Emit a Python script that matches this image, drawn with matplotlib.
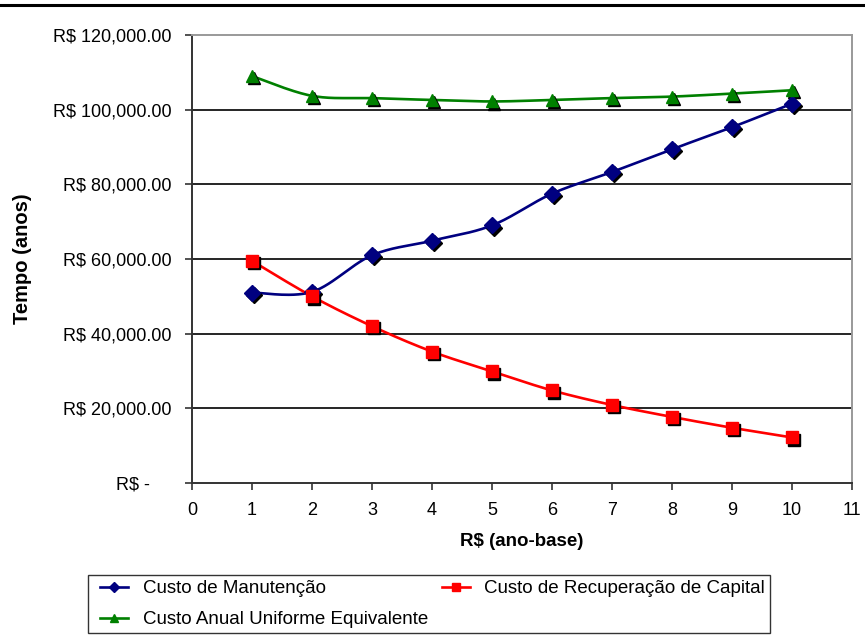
import numpy as np
import matplotlib.pyplot as plt
import matplotlib.transforms as mtransforms
from matplotlib.lines import Line2D
from matplotlib.legend_handler import HandlerLine2D

plt.rcParams['font.family'] = ['Liberation Sans', 'DejaVu Sans']

# --- data ---
anos = [1, 2, 3, 4, 5, 6, 7, 8, 9, 10]
custo_manutencao = [51000, 51200, 61000, 64900, 69000, 77500, 83300, 89400, 95300, 101600]
custo_recuperacao = [59500, 50000, 42000, 35200, 29900, 24800, 20900, 17700, 14800, 12200]
custo_anual = [109000, 103700, 103100, 102600, 102200, 102600, 103100, 103500, 104300, 105200]

yticks = [0, 20000, 40000, 60000, 80000, 100000, 120000]
ytick_labels = ['R$ -', 'R$ 20,000.00', 'R$ 40,000.00', 'R$ 60,000.00',
                'R$ 80,000.00', 'R$ 100,000.00', 'R$ 120,000.00']
xticks = list(range(0, 12))


def smooth(x, y, n=30):
    # Catmull-Rom style bezier through the points (like Excel's smoothed line)
    x = np.asarray(x, float)
    y = np.asarray(y, float)
    px = np.concatenate([[x[0]], x, [x[-1]]])
    py = np.concatenate([[y[0]], y, [y[-1]]])
    xs, ys = [], []
    t = np.linspace(0, 1, n)[:, None]
    for i in range(1, len(px) - 2):
        p0 = np.array([px[i], py[i]])
        p3 = np.array([px[i + 1], py[i + 1]])
        c1 = p0 + (p3 - np.array([px[i - 1], py[i - 1]])) / 6
        c2 = p3 - (np.array([px[i + 2], py[i + 2]]) - p0) / 6
        pts = ((1 - t) ** 3 * p0 + 3 * (1 - t) ** 2 * t * c1
               + 3 * (1 - t) * t ** 2 * c2 + t ** 3 * p3)
        xs.extend(pts[:, 0])
        ys.extend(pts[:, 1])
    return xs, ys


fig = plt.figure(figsize=(8.65, 6.36), dpi=100)
ax = fig.add_axes([192 / 865, 1 - 483 / 636, 660 / 865, 448 / 636])

# rule across the top of the page
fig.add_artist(Line2D([0, 1], [1 - 5 / 636, 1 - 5 / 636], color='black', lw=2.2,
                      transform=fig.transFigure))

series = [
    (custo_manutencao, '#000080', 'D', 8, 'Custo de Manutenção'),
    (custo_anual, '#008000', '^', 8.5, 'Custo Anual Uniforme Equivalente'),
    (custo_recuperacao, '#FF0000', 's', 8, 'Custo de Recuperação de Capital'),
]

shadow = mtransforms.offset_copy(ax.transData, fig=fig, x=1.6, y=-1.6, units='points')
handles = []
for vals, col, mk, ms, lab in series:
    sx, sy = smooth(anos, vals)
    ax.plot(sx, sy, color=col, lw=1.9, zorder=3, solid_capstyle='round')
    ax.plot(anos, vals, ls='none', marker=mk, ms=ms, color='black', mec='black',
            transform=shadow, zorder=4)
    ax.plot(anos, vals, ls='none', marker=mk, ms=ms, color=col, mec=col, zorder=5)
    handles.append(Line2D([], [], color=col, lw=1.9, marker=mk, ms=ms * 0.7, mec=col,
                          label=lab))

ax.set_xlim(0, 11)
ax.set_ylim(0, 120000)
ax.set_xticks(xticks)
ax.set_yticks(yticks)
ax.set_yticklabels(ytick_labels)
ax.tick_params(axis='both', direction='out', length=5, width=1.2, color='#333333',
               labelsize=13)
ax.tick_params(axis='y', pad=9.5)
ax.tick_params(axis='x', pad=9)

# the "R$ -" label sits further left (accounting format padding)
zero_lab = ax.get_yticklabels()[0]
zero_lab.set_transform(zero_lab.get_transform()
                       + mtransforms.ScaledTranslation(-22 / 100, 0, fig.dpi_scale_trans))

for yv in yticks[1:-1]:
    ax.axhline(yv, color='black', lw=1.2, zorder=1)

for side in ['left', 'bottom']:
    ax.spines[side].set_color('#333333')
    ax.spines[side].set_linewidth(1.4)
for side in ['top', 'right']:
    ax.spines[side].set_color('#999999')
    ax.spines[side].set_linewidth(1.4)

ax.set_xlabel('R$ (ano-base)', fontsize=13.5, fontweight='bold', labelpad=10)
ax.set_ylabel('Tempo (anos)', fontsize=14.5, fontweight='bold')
ax.yaxis.set_label_coords(-0.242, 0.5)

leg = fig.legend(handles=[handles[0], handles[1], handles[2]], ncol=2,
                 loc='lower left', bbox_to_anchor=(88 / 865, 3 / 636),
                 fontsize=13.5, frameon=True, fancybox=False,
                 edgecolor='black', handlelength=1.9, handletextpad=0.77,
                 borderaxespad=0, borderpad=0.25, labelspacing=0.75, columnspacing=0.32,
                 handler_map={Line2D: HandlerLine2D(xpad=0.4)})
leg.get_frame().set_linewidth(1.0)

fig.savefig('out.png', dpi=100)
